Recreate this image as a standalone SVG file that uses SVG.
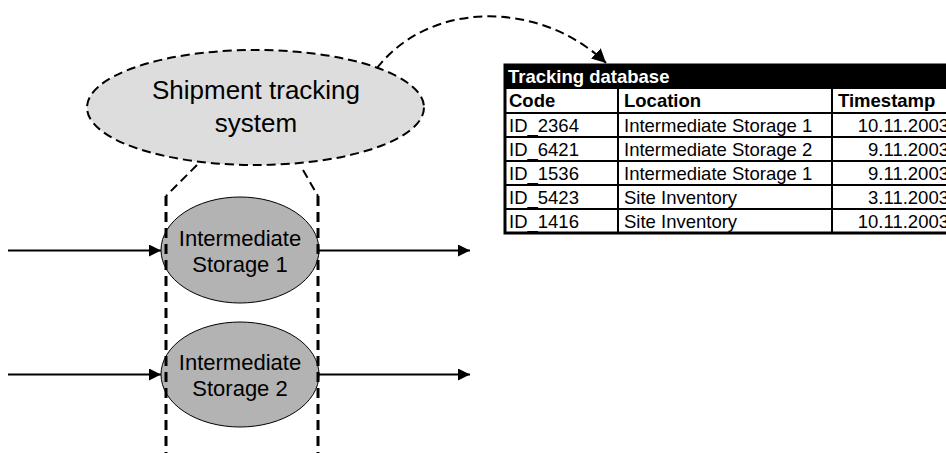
<svg xmlns="http://www.w3.org/2000/svg" width="946" height="453" viewBox="0 0 946 453">
<style>
text{font-family:"Liberation Sans",Arial,sans-serif;fill:#000}
.big{font-size:26px}
.mid{font-size:22px}
.cell{font-size:18.5px}
.bold{font-weight:bold}
.dash{fill:none;stroke:#000;stroke-width:2;stroke-dasharray:9 5}
.vdash{fill:none;stroke:#000;stroke-width:3;stroke-dasharray:10 6}
.flow{fill:none;stroke:#000;stroke-width:2}
.grid{stroke:#000;stroke-width:2}
</style>
<defs>
<marker id="ah" viewBox="0 0 12 12" refX="12" refY="6" markerWidth="12" markerHeight="12" markerUnits="userSpaceOnUse" orient="auto">
<path d="M0,0 L12,6 L0,12 Z" fill="#000"/>
</marker>
<marker id="ah2" viewBox="0 0 14 14" refX="14" refY="7" markerWidth="14" markerHeight="14" markerUnits="userSpaceOnUse" orient="auto">
<path d="M0,0 L14,7 L0,14 Z" fill="#000"/>
</marker>
</defs>
<rect width="946" height="453" fill="#fff"/>

<g id="shipment-system">
<ellipse cx="255.5" cy="107.5" rx="168.5" ry="57.5" fill="#dddddd" stroke="#000" stroke-width="2" stroke-dasharray="9 5"/>
<text class="big" x="256" y="99" text-anchor="middle">Shipment tracking</text>
<text class="big" x="256" y="132" text-anchor="middle">system</text>
</g>

<g id="storage-1">
<ellipse cx="240" cy="250" rx="79" ry="53" fill="#b3b3b3" stroke="#000" stroke-width="1"/>
<text class="mid" x="240" y="246" text-anchor="middle">Intermediate</text>
<text class="mid" x="240" y="272" text-anchor="middle">Storage 1</text>
</g>

<g id="storage-2">
<ellipse cx="240" cy="374.5" rx="79" ry="52.5" fill="#b3b3b3" stroke="#000" stroke-width="1"/>
<text class="mid" x="240" y="370" text-anchor="middle">Intermediate</text>
<text class="mid" x="240" y="396" text-anchor="middle">Storage 2</text>
</g>

<g id="tracking-database">
<rect x="505" y="65" width="450" height="168" fill="#fff" stroke="#000" stroke-width="3"/>
<rect x="505" y="65" width="450" height="24" fill="#000"/>
<line class="grid" x1="505" y1="113" x2="955" y2="113" stroke-width="3"/>
<line class="grid" x1="505" y1="137" x2="955" y2="137"/>
<line class="grid" x1="505" y1="161" x2="955" y2="161"/>
<line class="grid" x1="505" y1="185" x2="955" y2="185"/>
<line class="grid" x1="505" y1="209" x2="955" y2="209"/>
<line class="grid" x1="618" y1="89" x2="618" y2="233" stroke-width="3"/>
<line class="grid" x1="832" y1="89" x2="832" y2="233" stroke-width="3"/>
<text class="cell bold" x="508" y="83" style="fill:#fff">Tracking database</text>
<text class="cell bold" x="509" y="107">Code</text>
<text class="cell bold" x="624" y="107">Location</text>
<text class="cell bold" x="838" y="107">Timestamp</text>
<text class="cell" x="509" y="132">ID_2364</text>
<text class="cell" x="624" y="132">Intermediate Storage 1</text>
<text class="cell" x="949" y="132" text-anchor="end">10.11.2003</text>
<text class="cell" x="509" y="156">ID_6421</text>
<text class="cell" x="624" y="156">Intermediate Storage 2</text>
<text class="cell" x="949" y="156" text-anchor="end">9.11.2003</text>
<text class="cell" x="509" y="180">ID_1536</text>
<text class="cell" x="624" y="180">Intermediate Storage 1</text>
<text class="cell" x="949" y="180" text-anchor="end">9.11.2003</text>
<text class="cell" x="509" y="204">ID_5423</text>
<text class="cell" x="624" y="204">Site Inventory</text>
<text class="cell" x="949" y="204" text-anchor="end">3.11.2003</text>
<text class="cell" x="509" y="228">ID_1416</text>
<text class="cell" x="624" y="228">Site Inventory</text>
<text class="cell" x="949" y="228" text-anchor="end">10.11.2003</text>
</g>

<g id="connectors">
<path class="dash" d="M377,68 C430,0 540,0 606,63" marker-end="url(#ah2)"/>
<path class="dash" d="M197,165 L166,196"/>
<path class="dash" d="M303,170 L318,196" stroke-width="1.5"/>
<line class="vdash" x1="166" y1="196" x2="166" y2="453"/>
<line class="vdash" x1="318" y1="196" x2="318" y2="453"/>
<line class="flow" x1="8" y1="250.5" x2="161" y2="250.5" marker-end="url(#ah)"/>
<line class="flow" x1="319" y1="250.5" x2="470" y2="250.5" marker-end="url(#ah)"/>
<line class="flow" x1="8" y1="374.5" x2="161" y2="374.5" marker-end="url(#ah)"/>
<line class="flow" x1="319" y1="374.5" x2="470" y2="374.5" marker-end="url(#ah)"/>
</g>
</svg>
